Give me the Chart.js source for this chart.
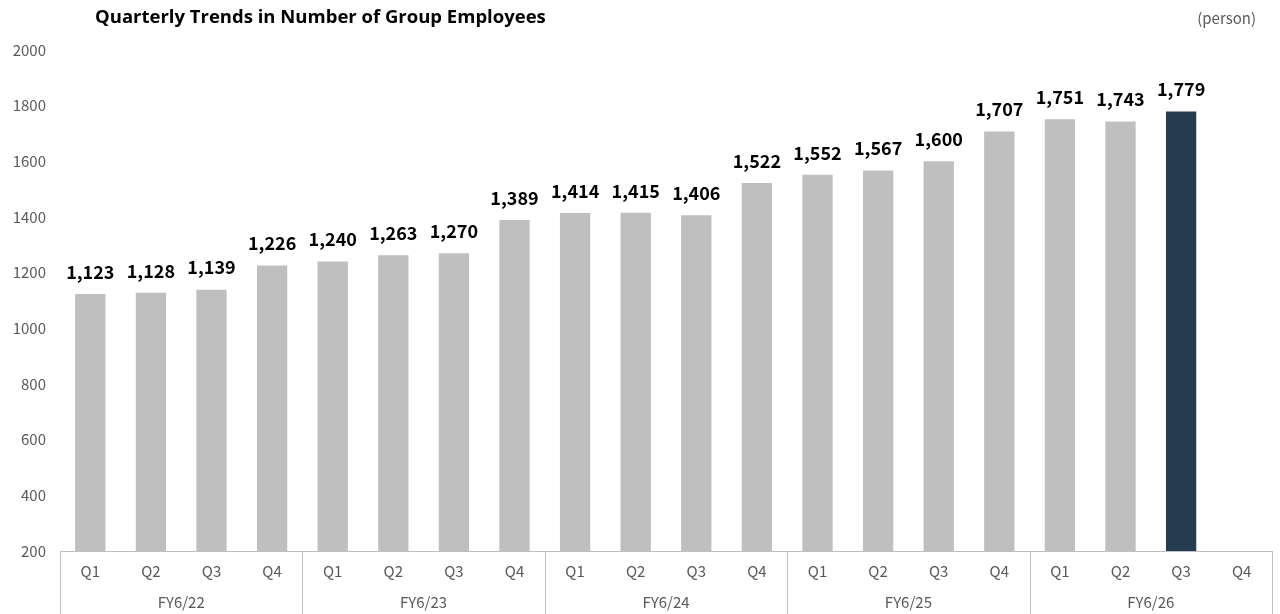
<!DOCTYPE html>
<html>
<head>
<meta charset="utf-8">
<script src="https://cdn.jsdelivr.net/npm/chart.js@4.4.1/dist/chart.umd.min.js"></script>
<style>
  html, body { margin: 0; padding: 0; background: #fff; }
  #wrap { width: 1280px; height: 614px; position: relative; }
</style>
</head>
<body>
<div id="wrap"><canvas id="chart" width="1280" height="614"></canvas></div>
<script>
const quarters = ['Q1', 'Q2', 'Q3', 'Q4', 'Q1', 'Q2', 'Q3', 'Q4', 'Q1', 'Q2', 'Q3', 'Q4', 'Q1', 'Q2', 'Q3', 'Q4', 'Q1', 'Q2', 'Q3', 'Q4'];
const fiscalYears = ['FY6/22', 'FY6/23', 'FY6/24', 'FY6/25', 'FY6/26'];
const employees = [1123, 1128, 1139, 1226, 1240, 1263, 1270, 1389, 1414, 1415, 1406, 1522, 1552, 1567, 1600, 1707, 1751, 1743, 1779, null];
const highlightIndex = 18;

const titleText = 'Quarterly Trends in Number of Group Employees';
const unitText = '(person)';

const greyBar = '#BFBFBF';
const darkBar = '#253B50';
const textGrey = '#595959';
const lineGrey = '#BFBFBF';
const fontFamily = '"Noto Sans CJK JP", "Noto Sans", sans-serif';
const titleFont = '"Open Sans", "Noto Sans", sans-serif';

const barColors = employees.map((v, i) => i === highlightIndex ? darkBar : greyBar);

// labels above bars, title, FY row and the box lines under the axis
const extras = {
  id: 'extras',
  afterDatasetsDraw(chart) {
    const ctx = chart.ctx;
    const x = chart.scales.x;
    const y = chart.scales.y;
    const area = chart.chartArea;
    ctx.save();

    // value labels
    ctx.fillStyle = '#000';
    ctx.font = 'bold 18px ' + fontFamily;
    ctx.textAlign = 'center';
    ctx.textBaseline = 'bottom';
    employees.forEach((v, i) => {
      if (v === null) return;
      ctx.fillText(v.toLocaleString('en-US'), x.getPixelForValue(i), y.getPixelForValue(v) - 13);
    });

    // title + unit
    ctx.font = 'bold 18.5px ' + titleFont;
    ctx.textAlign = 'left';
    ctx.textBaseline = 'middle';
    ctx.fillText(titleText, 95, 18);
    ctx.font = '15px ' + fontFamily;
    ctx.fillStyle = textGrey;
    ctx.textAlign = 'right';
    ctx.fillText(unitText, 1256, 18);

    // axis box lines
    const bottom = chart.height;
    ctx.strokeStyle = lineGrey;
    ctx.lineWidth = 1;
    ctx.beginPath();
    ctx.moveTo(area.left, area.bottom + 0.5);
    ctx.lineTo(area.right, area.bottom + 0.5);
    const step = (area.right - area.left) / quarters.length;
    for (let g = 0; g <= fiscalYears.length; g++) {
      const px = Math.round(area.left + g * 4 * step) + 0.5;
      ctx.moveTo(px, area.bottom);
      ctx.lineTo(px, bottom);
    }
    ctx.stroke();

    // fiscal year labels
    ctx.font = '15px ' + fontFamily;
    ctx.fillStyle = textGrey;
    ctx.textAlign = 'center';
    fiscalYears.forEach((fy, g) => {
      const cx = (x.getPixelForValue(g * 4) + x.getPixelForValue(g * 4 + 3)) / 2;
      ctx.fillText(fy, cx, 602);
    });
    ctx.restore();
  }
};

new Chart(document.getElementById('chart'), {
  type: 'bar',
  data: {
    labels: quarters,
    datasets: [{
      data: employees,
      backgroundColor: barColors,
      barPercentage: 0.5,
      categoryPercentage: 1.0
    }]
  },
  options: {
    responsive: false,
    animation: false,
    events: [],
    layout: { padding: { top: 50, right: 8, left: 0, bottom: 0 } },
    plugins: { legend: { display: false }, tooltip: { enabled: false } },
    scales: {
      x: {
        grid: { display: false, drawTicks: false },
        border: { display: false },
        ticks: { color: textGrey, font: { size: 15, family: fontFamily }, padding: 11, maxRotation: 0 },
        afterFit(scale) { scale.height = 63; }
      },
      y: {
        min: 200,
        max: 2000,
        grid: { display: false, drawTicks: false },
        border: { display: false },
        ticks: {
          stepSize: 200,
          color: textGrey,
          font: { size: 15, family: fontFamily },
          padding: 14,
          callback: (v) => String(v)
        },
        afterFit(scale) { scale.width = 60; }
      }
    }
  },
  plugins: [extras]
});
</script>
</body>
</html>
